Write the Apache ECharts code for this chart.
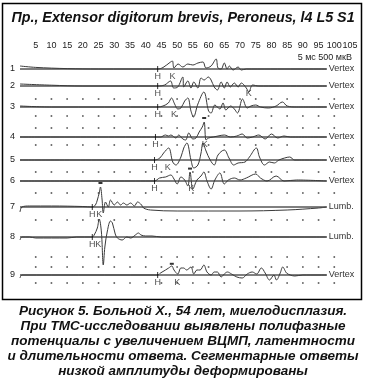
<!DOCTYPE html>
<html><head><meta charset="utf-8">
<script src="https://cdn.jsdelivr.net/npm/echarts@6/dist/echarts.min.js"></script>
<style>html,body{margin:0;padding:0;background:#fff}#c{width:366px;height:380px}</style>
</head><body><div id="c"></div>
<script>
// ---------- texts ----------
const titleText = 'Пр., Extensor digitorum brevis, Peroneus, l4 L5 S1';
const calibText = '5 мс 500 мкВ';
const captionLines = [
  'Рисунок 5. Больной Х., 54 лет, миелодисплазия.',
  'При ТМС-исследовании выявлены полифазные',
  'потенциалы с увеличением ВЦМП, латентности',
  'и длительности ответа. Сегментарные ответы',
  'низкой амплитуды деформированы'
];
// ---------- data ----------
const xTicks = [5,10,15,20,25,30,35,40,45,50,55,60,65,70,75,80,85,90,95,100,105];
const traceNames = ['1','2','3','4','5','6','7','8','9'];
const traceSites = ['Vertex','Vertex','Vertex','Vertex','Vertex','Vertex','Lumb.','Lumb.','Vertex'];
const traceEndMs = 97.6;
// [time ms, amplitude µV]
const trace1 = [[0,150],[5,80],[15,20],[25,0],[43.8,0],[45.5,75],[47.9,350],[48.5,400],[49,50],[50.3,250],[51.8,100],[53.4,250],[55,200],[56.6,300],[58.2,350],[59.2,50],[60.8,150],[62.4,500],[63,50],[64,0],[65,300],[65.9,0],[66.6,150],[67.8,-50],[69.4,100],[70.4,-50],[72,0],[97.6,0]];
const trace2 = [[0,100],[10,40],[20,0],[43.8,0],[46,50],[47.9,250],[48.9,-100],[50.2,-50],[51.8,450],[52.1,-50],[53.4,250],[54.4,-100],[55.3,200],[56.6,-100],[57.6,400],[58.6,300],[59.9,450],[60.8,300],[61.8,-50],[62.8,-200],[64,200],[65,-100],[65.9,200],[66.9,-50],[68.2,150],[69.4,-50],[70.4,150],[72,-100],[72.8,-300],[74,50],[76,0],[97.6,0]];
const trace3 = [[0,50],[10,0],[43.8,0],[45.5,50],[47.2,200],[48.2,450],[49.2,150],[50.2,-100],[51.2,-50],[52.4,300],[53.4,450],[54.4,-200],[55.2,-500],[56.6,150],[58.5,750],[60,-200],[60.8,-300],[62,100],[63.6,-100],[64.6,200],[65.5,-150],[67,50],[68.2,-100],[69.2,-300],[70.8,400],[72.3,-50],[73.5,50],[75,100],[76.5,0],[79,-50],[81.5,50],[83.5,250],[85,50],[88,0],[97.6,0]];
const trace4 = [[0,0],[43.1,0],[44.7,0],[46.3,100],[47.2,50],[48,100],[49.6,-50],[50.5,100],[51.8,-100],[52.7,-150],[53.7,200],[55,-100],[56,-50],[57,250],[58,500],[58.6,750],[59.2,-150],[60,-50],[61.5,0],[63,50],[65,100],[67,0],[69,50],[70.7,150],[72.3,-50],[74,0],[76,100],[78,-100],[80,150],[82,-50],[84,50],[86,0],[97.6,0]];
const trace5 = [[0,0],[42.8,0],[44.5,100],[45.7,350],[47.3,600],[48.6,-100],[49.6,-250],[51.2,150],[52.1,600],[53.1,850],[54.4,0],[55.3,-400],[56.6,-250],[57.6,350],[58.2,850],[59.2,450],[60.5,0],[61.8,-250],[63,250],[65,500],[66.5,100],[68,-250],[69.4,-150],[71.6,-100],[73,150],[75.2,600],[76.2,150],[77.8,-250],[79.4,-100],[80.9,-150],[82.4,0],[84.2,100],[85.8,150],[87.4,0],[97.6,0]];
const trace6 = [[0,0],[42.8,0],[44.4,150],[46.3,200],[48,300],[49,100],[50,-150],[51.2,200],[52.4,50],[53.4,-250],[54.1,450],[55,-400],[56.3,50],[57.6,250],[58.5,450],[59.5,0],[60.8,-400],[62,50],[63.6,400],[65,-150],[66.3,50],[68.2,150],[70,50],[72,150],[75,350],[76.5,150],[78.6,0],[81.5,250],[84,0],[88,50],[97.6,0]];
const trace7 = [[0,-250],[0.6,0],[3,50],[10,50],[20,25],[23,0],[24,100],[24.6,350],[25.2,700],[25.6,1000],[26.1,400],[26.5,-300],[27.2,250],[28.1,0],[28.8,350],[30,100],[31,250],[32,100],[32.9,200],[34,100],[35.2,200],[36.4,50],[37.4,250],[38.7,100],[39.3,-50],[41.5,-150],[50,-200],[70,-200],[85,-150],[95,-50],[97.6,0]];
const trace8 = [[0,-150],[0.6,0],[3,0],[5,-50],[15,-50],[18,0],[23,0],[23.6,100],[24.6,450],[25.2,900],[25.9,250],[26.5,-1400],[27,-500],[27.8,300],[28.8,800],[29.4,700],[30.3,150],[31,-50],[32.5,-150],[34,0],[35.2,-50],[36.7,100],[37.7,200],[38.5,100],[40,50],[42,50],[45,0],[97.6,0]];
const trace9 = [[0,-150],[0.6,0],[10,0],[43.8,0],[44.7,100],[46.3,250],[47.3,350],[48.3,450],[49,250],[50.2,50],[51.2,350],[52.1,350],[53,250],[54.4,400],[55.3,50],[56.3,250],[57.3,250],[58.5,500],[59.5,150],[60.8,0],[61.8,150],[62.8,150],[64,-100],[65,50],[66,150],[67.3,50],[69,-100],[70.7,-150],[72.3,50],[73.9,150],[75.3,50],[76.8,350],[78,100],[79.4,-250],[80.8,0],[81.6,-250],[82.8,100],[83.6,400],[84.8,100],[86,0],[87.4,-50],[90,0],[97.6,0]];
const traces = [trace1,trace2,trace3,trace4,trace5,trace6,trace7,trace8,trace9];
const hLatency = [43.8,43.8,43.8,43.1,42.8,42.8,23.0,23.0,43.8];
const kLatency = [48.5,72.8,49.0,58.8,47.0,54.5,25.2,24.9,50.0];
// peak markers: [trace index, time ms, amplitude µV]
const peakMarks = [[3,58.6,950],[5,54.1,620],[6,25.6,1200],[8,48.3,560]];

// ---------- layout (positions / styles only) ----------
const baselinesPx = [69,86,107,137,160,181,207,237,275];
const dotRowsPx = [99,116,128,145,172,193,220,257,267,283];
const PLOT_LEFT = 20, PLOT_RIGHT = 16;
const HALF_PX = 30, UV_PER_PX = 50;
const FONT = '"Liberation Sans", Arial, sans-serif';

const grids = [], xAxes = [], yAxes = [], series = [];
traces.forEach((tr, i) => {
  grids.push({left: PLOT_LEFT, right: PLOT_RIGHT, top: baselinesPx[i] - HALF_PX, height: HALF_PX * 2, containLabel: false, outerBoundsMode: 'none'});
  xAxes.push({gridIndex: i, type: 'value', min: 0, max: 105, show: false});
  yAxes.push({gridIndex: i, type: 'value', min: -HALF_PX * UV_PER_PX, max: HALF_PX * UV_PER_PX, interval: HALF_PX * UV_PER_PX,
    axisLine: {show: false}, axisTick: {show: false}, splitLine: {show: false},
    axisLabel: {show: true, margin: 5, fontSize: 9, fontFamily: FONT, color: '#222', formatter: v => v === 0 ? traceNames[i] : ''}});
  series.push({type: 'line', xAxisIndex: i, yAxisIndex: i, data: [[0, 0], [traceEndMs, 0]], symbol: 'none', silent: true,
    lineStyle: {color: '#000', width: 1}, z: 2, animation: false,
    endLabel: {show: true, formatter: traceSites[i], fontSize: 9, fontFamily: FONT, color: '#333', distance: 2}});
  series.push({type: 'line', xAxisIndex: i, yAxisIndex: i, data: tr, symbol: 'none', smooth: 0.35, silent: true,
    lineStyle: {color: '#3a3a3a', width: 1}, z: 3, animation: false});
  series.push({type: 'scatter', xAxisIndex: i, yAxisIndex: i, animation: false, silent: true, z: 4,
    data: [
      {value: [hLatency[i], 0], symbol: 'rect', symbolSize: [1, 6], itemStyle: {color: '#000'},
        label: {show: true, formatter: 'H', position: 'bottom', distance: 0, fontSize: 9, fontFamily: FONT, color: '#222'}},
      {value: [kLatency[i], 0], symbol: 'rect', symbolSize: 0.01,
        label: {show: true, formatter: 'K', position: 'bottom', distance: 3, fontSize: 9, fontFamily: FONT, color: '#222'}}
    ]});
});
peakMarks.forEach(([ti, t, a]) => {
  series.push({type: 'scatter', xAxisIndex: ti, yAxisIndex: ti, data: [[t, a]], symbol: 'rect', symbolSize: [4, 2],
    itemStyle: {color: '#000'}, z: 5, animation: false, silent: true});
});
const BG = traces.length;
grids.push({left: PLOT_LEFT, right: PLOT_RIGHT, top: 0, height: 380, outerBoundsMode: 'none'});
xAxes.push({gridIndex: BG, type: 'value', min: 0, max: 105, show: false});
yAxes.push({gridIndex: BG, type: 'value', min: 0, max: 380, inverse: true, show: false});
const dots = [];
dotRowsPx.forEach(r => xTicks.filter(t => t <= 100).forEach(t => dots.push([t, r])));
series.push({type: 'scatter', xAxisIndex: BG, yAxisIndex: BG, data: dots, symbol: 'rect', symbolSize: 1.6,
  itemStyle: {color: '#222'}, z: 1, animation: false, silent: true});
const TA = BG + 1;
grids.push({left: PLOT_LEFT, right: PLOT_RIGHT, top: 51, height: 1, outerBoundsMode: 'none'});
xAxes.push({gridIndex: TA, type: 'value', min: 0, max: 105, interval: 5, position: 'top',
  axisLine: {show: false}, axisTick: {show: false}, splitLine: {show: false},
  axisLabel: {show: true, margin: 1, fontSize: 9, fontFamily: FONT, color: '#222', hideOverlap: false,
    formatter: v => xTicks.includes(v) ? String(v) : ''}});
yAxes.push({gridIndex: TA, type: 'value', show: false});

const chart = echarts.init(document.getElementById('c'), null, {renderer: 'canvas'});
chart.setOption({
  animation: false,
  backgroundColor: '#fff',
  title: [
    {text: titleText, left: 'center', top: 11, padding: 0, textStyle: {fontSize: 14.3, fontWeight: 'bold', fontStyle: 'italic', fontFamily: FONT, color: '#111'}},
    {text: calibText, right: 14, top: 53, padding: 0, textStyle: {fontSize: 9, fontWeight: 'normal', fontFamily: FONT, color: '#222'}}
  ],
  graphic: [
    {type: 'rect', shape: {x: 2.5, y: 3.5, width: 359, height: 296}, style: {fill: 'none', stroke: '#000', lineWidth: 1.5}, silent: true, z: 0},
    {type: 'text', x: 183, y: 303.5, silent: true, z: 10,
      style: {text: captionLines.join('\n'), align: 'center', verticalAlign: 'top', lineHeight: 15,
        font: 'italic bold 13.5px "Liberation Sans", Arial, sans-serif', fill: '#111'}}
  ],
  grid: grids, xAxis: xAxes, yAxis: yAxes, series: series
});
</script></body></html>
